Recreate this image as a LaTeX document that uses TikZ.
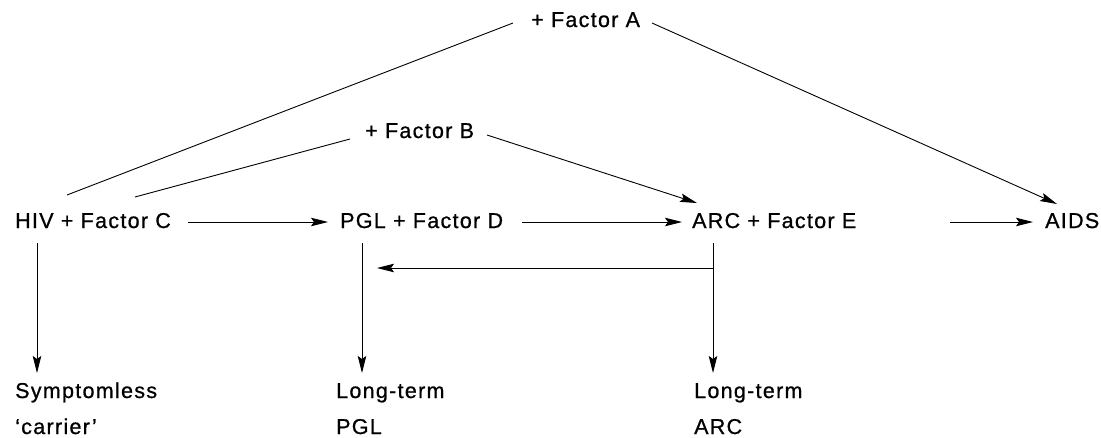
\documentclass[tikz,border=0pt]{standalone}
\usepackage{fontspec}
\setmainfont[LetterSpace=6,FakeBold=0.8]{Liberation Sans}
\usetikzlibrary{arrows.meta}
\begin{document}
\begin{tikzpicture}[x=1pt,y=-1pt,
  lbl/.style={anchor=base west,inner sep=0pt,font=\fontsize{21.5}{25}\selectfont},
  conn/.style={line width=0.9pt},
  arr/.style={conn,-{Stealth[length=17pt,width=8.5pt,inset=3pt]}}]
\useasboundingbox (0,0) rectangle (1101,437);
\node[lbl] (A) at (531,27) {+ Factor A};
\node[lbl] (B) at (365,138) {+ Factor B};
\node[lbl] (hiv) at (15,228) {HIV + Factor C};
\node[lbl] (pgl) at (340,228) {PGL + Factor D};
\node[lbl] (arc) at (692,228) {ARC + Factor E};
\node[lbl] (aids) at (1045,228) {AIDS};
\node[lbl] (s1) at (15,398) {Symptomless};
\node[lbl] (s2) at (15,434) {‘carrier’};
\node[lbl] (p1) at (336,398) {Long-term};
\node[lbl] (p2) at (336,434) {PGL};
\node[lbl] (a1) at (694,398) {Long-term};
\node[lbl] (a2) at (694,434) {ARC};
% connector end points
\coordinate (Aw) at (513,23);
\coordinate (Ae) at (652,23);
\coordinate (Bw) at (350,139);
\coordinate (Be) at (487,135);
\coordinate (hivtop) at (67,195);
\coordinate (hivtop2) at (135,197);
\coordinate (arctop) at (697,203);
\coordinate (aidstop) at (1057,204);
\draw[conn] (Aw) -- (hivtop);
\draw[conn] (Bw) -- (hivtop2);
\draw[arr] (Ae) -- (aidstop);
\draw[arr] (Be) -- (arctop);
\coordinate (hivE) at (188,222);
\coordinate (pglW) at (328,222);
\coordinate (pglE) at (522,222);
\coordinate (arcW) at (682,222);
\coordinate (arcE) at (950,222);
\coordinate (aidsW) at (1033,222);
\draw[arr] (hivE) -- (pglW);
\draw[arr] (pglE) -- (arcW);
\draw[arr] (arcE) -- (aidsW);
\coordinate (d1t) at (37,243);
\coordinate (d1b) at (37,373);
\coordinate (d2t) at (362,243);
\coordinate (d2b) at (362,373);
\coordinate (d3t) at (713,243);
\coordinate (d3b) at (713,373);
\draw[arr] (d1t) -- (d1b);
\draw[arr] (d2t) -- (d2b);
\draw[arr] (d3t) -- (d3b);
\coordinate (bk1) at (713,268);
\coordinate (bk2) at (377,268);
\draw[arr] (bk1) -- (bk2);
\end{tikzpicture}
\end{document}
